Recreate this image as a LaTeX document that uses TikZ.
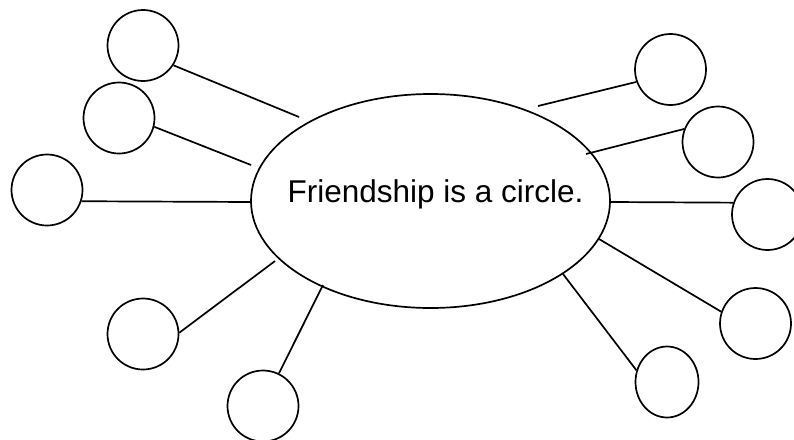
\documentclass[tikz,border=0pt]{standalone}
\usepackage{fontspec}
\setmainfont{Liberation Sans}
\usepackage{tikz}
\usetikzlibrary{shapes.geometric}

\begin{document}
\begin{tikzpicture}[x=1pt,y=-1pt,
  leaf/.style={draw,circle,line width=1.7pt,minimum size=71pt,inner sep=0pt},
  hub/.style={draw,ellipse,line width=1.7pt,minimum width=359pt,minimum height=214pt,inner sep=0pt},
  spoke/.style={line width=1.7pt}]
\useasboundingbox (0,0) rectangle (794,439);
\node[hub] (hub) at (430.5,201) {};
\node[anchor=base west,inner sep=0pt,font=\fontsize{31.5}{38}\selectfont] (title) at (287.5,202) {Friendship is a circle.};
% left side
\node[leaf] (la) at (143,45.5) {};
\node[leaf] (lb) at (119,118) {};
\node[leaf] (lc) at (47,190) {};
\node[leaf] (ld) at (143,334) {};
\node[leaf] (le) at (263,406) {};
% right side
\node[leaf] (ra) at (670.5,69.5) {};
\node[leaf] (rb) at (718,142) {};
\node[leaf] (rc) at (767.5,214.5) {};
\node[leaf] (rd) at (755.5,323.5) {};
\node[leaf,ellipse,minimum width=63pt,minimum height=71pt] (re) at (667,382) {};
% ends at the hub
\coordinate (hla) at (299,117);
\coordinate (hlb) at (251,165);
\coordinate (hlc) at (251,202);
\coordinate (hld) at (275,261);
\coordinate (hle) at (323,285);
\coordinate (hra) at (538,106);
\coordinate (hrb) at (586,154);
\coordinate (hrc) at (611,202);
\coordinate (hrd) at (599,239);
\coordinate (hre) at (563,274);
\draw[spoke] (la.-33) -- (hla);
\draw[spoke] (lb.-14) -- (hlb);
\draw[spoke] (lc.-18) -- (hlc);
\draw[spoke] (ld.2) -- (hld);
\draw[spoke] (le.64) -- (hle);
\draw[spoke] (ra.-160) -- (hra);
\draw[spoke] (rb.159) -- (hrb);
\draw[spoke] (rc.161) -- (hrc);
\draw[spoke] (rd.161) -- (hrd);
\draw[spoke] (re.159) -- (hre);
\end{tikzpicture}
\end{document}
